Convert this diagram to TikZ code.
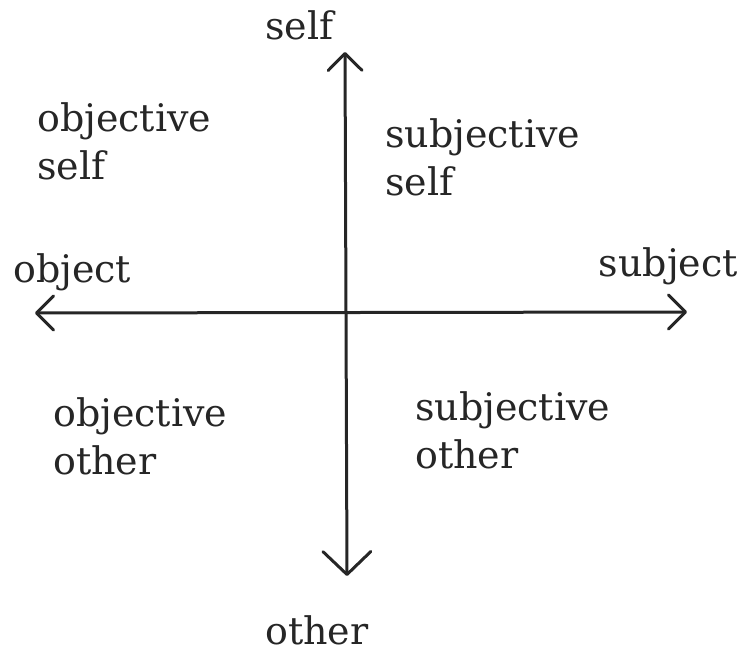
\documentclass[tikz,border=0pt]{standalone}
\usepackage{fontspec}
\usetikzlibrary{arrows.meta}
\newfontfamily\lab{DejaVu Serif}
\definecolor{ink}{RGB}{38,38,38}
\newlength\tw
\begin{document}
\settowidth\tw{\lab\fontsize{10}{12}\selectfont objective}%
\pgfmathsetmacro\fs{1740/\tw}%
\begin{tikzpicture}[x=1pt,y=-1pt]
\tikzset{
  lbl/.style={font=\lab\fontsize{\fs}{48}\selectfont, align=left, inner sep=0pt, anchor=base west, text=ink},
  axisline/.style={draw=ink, line width=3pt, line cap=round, line join=round},
  barb/.tip={Straight Barb[length=17pt, width=34pt, line width=3pt, round]},
  bigbarb/.tip={Straight Barb[length=23pt, width=48pt, line width=3pt, round]}
}
\useasboundingbox (0,0) rectangle (742,652);
\coordinate (top) at (345,52);
\coordinate (bottom) at (347,576);
\coordinate (left) at (35,313);
\coordinate (right) at (687,312);
\draw[axisline, barb-bigbarb] (top) -- (bottom);
\draw[axisline, barb-barb] (left) -- (right);
\node[lbl] (selflbl) at (265,40) {self};
\node[lbl] (otherlbl) at (265,644) {other};
\node[lbl] (objectlbl) at (13,283) {object};
\node[lbl, anchor=base east] (subjectlbl) at (738,277) {subject};
\node[lbl] (objself) at (37,180) {objective\\self};
\node[lbl] (subjself) at (385,196) {subjective\\self};
\node[lbl] (objother) at (53,474) {objective\\other};
\node[lbl] (subjother) at (415,468) {subjective\\other};
\end{tikzpicture}
\end{document}
